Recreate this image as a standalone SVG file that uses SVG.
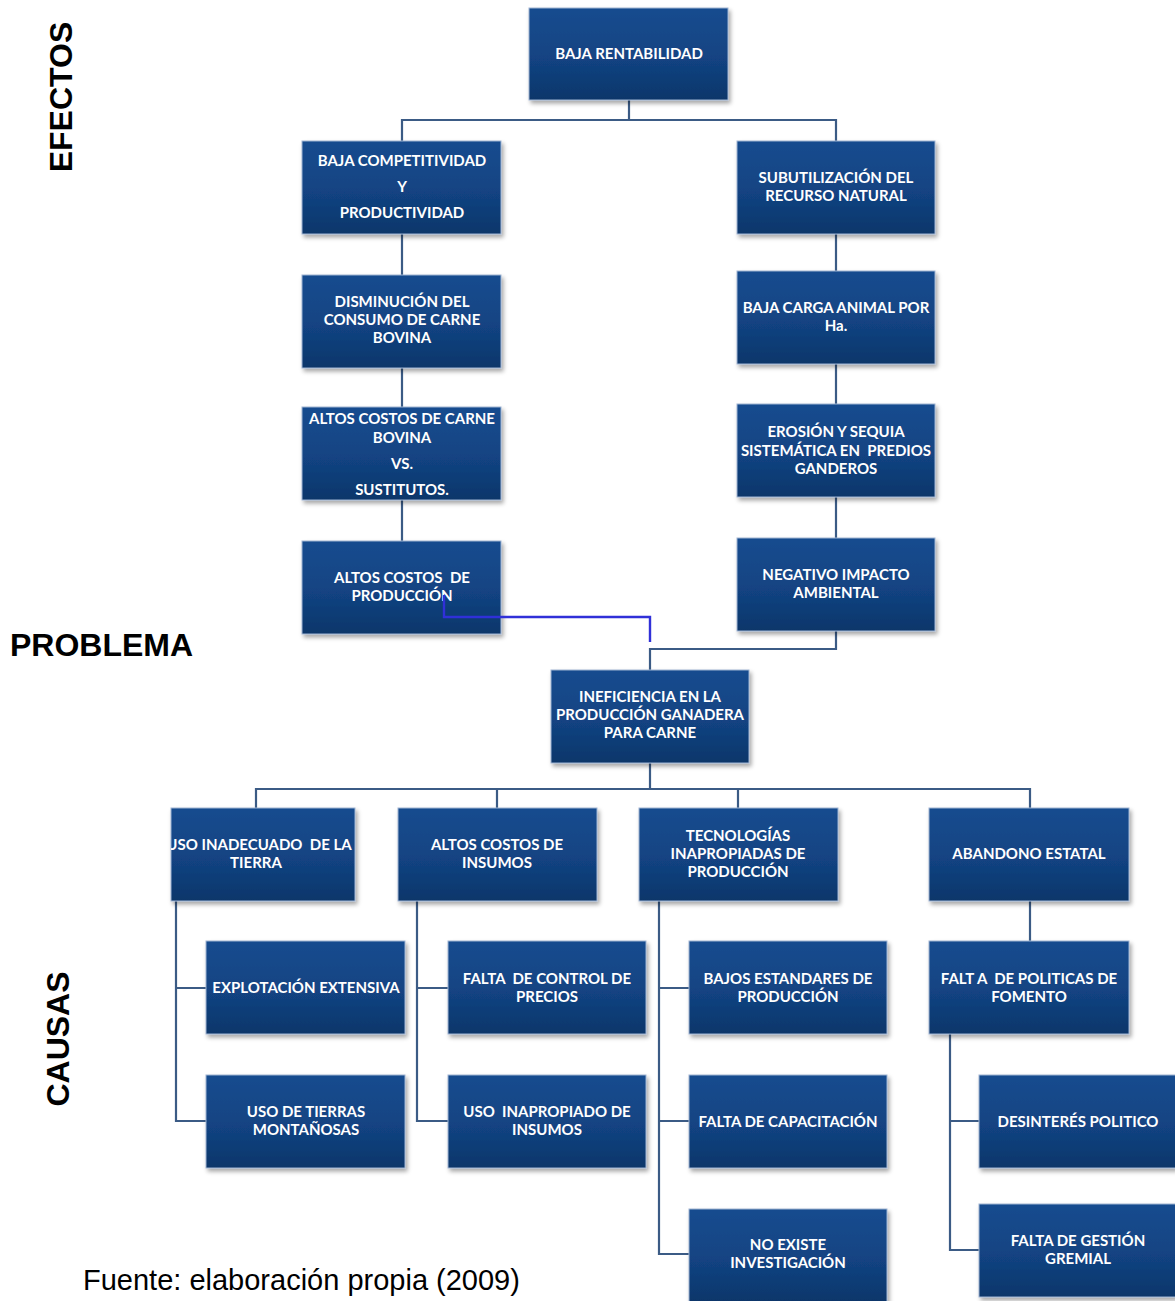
<svg xmlns="http://www.w3.org/2000/svg" width="1175" height="1301" viewBox="0 0 1175 1301">
  <defs>
    <linearGradient id="boxFill" x1="0" y1="0" x2="0" y2="1">
      <stop offset="0" stop-color="#154c8f"/>
      <stop offset="0.55" stop-color="#124382"/>
      <stop offset="1" stop-color="#0d366a"/>
    </linearGradient>
    <filter id="shadow" x="-10%" y="-10%" width="125%" height="130%">
      <feDropShadow dx="2" dy="3" stdDeviation="2" flood-color="#000" flood-opacity="0.35"/>
    </filter>
    <clipPath id="clipUso">
      <rect x="171" y="808" width="184" height="93"/>
    </clipPath>
  </defs>
  <style>
    .box { fill: url(#boxFill); stroke: #9fb4d2; stroke-width: 1; filter: url(#shadow); }
    .t { font-family: "Lato", "Liberation Sans", sans-serif; font-weight: bold; font-size: 15px; fill: #ffffff; text-anchor: middle; white-space: pre; }
    .wire { fill: none; stroke: #3b5b85; stroke-width: 2.2; }
    .hl { fill: none; stroke: #3030d8; stroke-width: 2.4; }
    .lbl { font-family: "Liberation Sans", Arial, sans-serif; font-weight: bold; font-size: 32px; fill: #000; }
  </style>

  <rect width="1175" height="1301" fill="#ffffff"/>

  <!-- side labels -->
  <text class="lbl" transform="translate(72,97) rotate(-90)" text-anchor="middle">EFECTOS</text>
  <text class="lbl" x="10" y="656">PROBLEMA</text>
  <text class="lbl" transform="translate(69,1039) rotate(-90)" text-anchor="middle" font-size="29">CAUSAS</text>
  <text x="83" y="1290" font-family="Liberation Sans, Arial, sans-serif" font-size="29" fill="#000">Fuente: elaboración propia (2009)</text>

  <!-- connectors -->
  <g id="connectors">
    <!-- effects tree -->
    <path class="wire" d="M629,100 V120 M402,141 V120 H836 V141"/>
    <path class="wire" d="M402,234 V275 M402,368 V407 M402,500 V541"/>
    <path class="wire" d="M836,234 V271 M836,364 V404 M836,497 V538"/>
    <path class="wire" d="M836,631 V649 H650 V670"/>
    <!-- causes tree -->
    <path class="wire" d="M650,763 V789 M256,808 V789 H1030 V808 M497,789 V808 M738,789 V808"/>
    <path class="wire" d="M176,901 V1121 H206 M176,988 H206"/>
    <path class="wire" d="M417,901 V1121 H448 M417,988 H448"/>
    <path class="wire" d="M659,901 V1254 H689 M659,988 H689 M659,1121 H689"/>
    <path class="wire" d="M1030,901 V941"/>
    <path class="wire" d="M950,1034 V1250 H979 M950,1121 H979"/>
  </g>

  <!-- effects -->
  <g id="n-baja-rentabilidad">
    <rect class="box" x="529" y="8" width="199" height="92"/>
    <text class="t" x="629" y="59">BAJA RENTABILIDAD</text>
  </g>
  <g id="n-baja-competitividad">
    <rect class="box" x="302" y="141" width="199" height="93"/>
    <text class="t" x="402" y="166">BAJA COMPETITIVIDAD</text>
    <text class="t" x="402" y="192">Y</text>
    <text class="t" x="402" y="218">PRODUCTIVIDAD</text>
  </g>
  <g id="n-subutilizacion">
    <rect class="box" x="737" y="141" width="198" height="93"/>
    <text class="t" x="836" y="183">SUBUTILIZACIÓN DEL</text>
    <text class="t" x="836" y="201">RECURSO NATURAL</text>
  </g>
  <g id="n-disminucion">
    <rect class="box" x="302" y="275" width="199" height="93"/>
    <text class="t" x="402" y="307">DISMINUCIÓN DEL</text>
    <text class="t" x="402" y="325">CONSUMO DE CARNE</text>
    <text class="t" x="402" y="343">BOVINA</text>
  </g>
  <g id="n-baja-carga">
    <rect class="box" x="737" y="271" width="198" height="93"/>
    <text class="t" x="836" y="313">BAJA CARGA ANIMAL POR</text>
    <text class="t" x="836" y="331">Ha.</text>
  </g>
  <g id="n-altos-costos-carne">
    <rect class="box" x="302" y="407" width="199" height="93"/>
    <text class="t" x="402" y="424">ALTOS COSTOS DE CARNE</text>
    <text class="t" x="402" y="443">BOVINA</text>
    <text class="t" x="402" y="469">VS.</text>
    <text class="t" x="402" y="495">SUSTITUTOS.</text>
  </g>
  <g id="n-erosion">
    <rect class="box" x="737" y="404" width="198" height="93"/>
    <text class="t" x="836" y="437">EROSIÓN Y SEQUIA</text>
    <text class="t" x="836" y="456">SISTEMÁTICA EN  PREDIOS</text>
    <text class="t" x="836" y="474">GANDEROS</text>
  </g>
  <g id="n-altos-costos-produccion">
    <rect class="box" x="302" y="541" width="199" height="93"/>
    <text class="t" x="402" y="583">ALTOS COSTOS  DE</text>
    <text class="t" x="402" y="601">PRODUCCIÓN</text>
  </g>
  <g id="n-negativo-impacto">
    <rect class="box" x="737" y="538" width="198" height="93"/>
    <text class="t" x="836" y="580">NEGATIVO IMPACTO</text>
    <text class="t" x="836" y="598">AMBIENTAL</text>
  </g>

  <!-- problem -->
  <g id="n-ineficiencia">
    <rect class="box" x="551" y="670" width="198" height="93"/>
    <text class="t" x="650" y="702">INEFICIENCIA EN LA</text>
    <text class="t" x="650" y="720">PRODUCCIÓN GANADERA</text>
    <text class="t" x="650" y="738">PARA CARNE</text>
  </g>

  <!-- causes -->
  <g id="n-uso-inadecuado">
    <rect class="box" x="171" y="808" width="184" height="93"/>
    <g clip-path="url(#clipUso)">
      <text class="t" x="259" y="850">USO INADECUADO  DE LA</text>
      <text class="t" x="256" y="868">TIERRA</text>
    </g>
  </g>
  <g id="n-altos-costos-insumos">
    <rect class="box" x="398" y="808" width="199" height="93"/>
    <text class="t" x="497" y="850">ALTOS COSTOS DE</text>
    <text class="t" x="497" y="868">INSUMOS</text>
  </g>
  <g id="n-tecnologias">
    <rect class="box" x="639" y="808" width="199" height="93"/>
    <text class="t" x="738" y="841">TECNOLOGÍAS</text>
    <text class="t" x="738" y="859">INAPROPIADAS DE</text>
    <text class="t" x="738" y="877">PRODUCCIÓN</text>
  </g>
  <g id="n-abandono-estatal">
    <rect class="box" x="929" y="808" width="200" height="93"/>
    <text class="t" x="1029" y="859">ABANDONO ESTATAL</text>
  </g>

  <g id="n-explotacion">
    <rect class="box" x="206" y="941" width="199" height="93"/>
    <text class="t" x="306" y="993">EXPLOTACIÓN EXTENSIVA</text>
  </g>
  <g id="n-tierras-montanosas">
    <rect class="box" x="206" y="1075" width="199" height="93"/>
    <text class="t" x="306" y="1117">USO DE TIERRAS</text>
    <text class="t" x="306" y="1135">MONTAÑOSAS</text>
  </g>
  <g id="n-control-precios">
    <rect class="box" x="448" y="941" width="198" height="93"/>
    <text class="t" x="547" y="984">FALTA  DE CONTROL DE</text>
    <text class="t" x="547" y="1002">PRECIOS</text>
  </g>
  <g id="n-uso-inapropiado">
    <rect class="box" x="448" y="1075" width="198" height="93"/>
    <text class="t" x="547" y="1117">USO  INAPROPIADO DE</text>
    <text class="t" x="547" y="1135">INSUMOS</text>
  </g>
  <g id="n-bajos-estandares">
    <rect class="box" x="689" y="941" width="198" height="93"/>
    <text class="t" x="788" y="984">BAJOS ESTANDARES DE</text>
    <text class="t" x="788" y="1002">PRODUCCIÓN</text>
  </g>
  <g id="n-capacitacion">
    <rect class="box" x="689" y="1075" width="198" height="93"/>
    <text class="t" x="788" y="1127">FALTA DE CAPACITACIÓN</text>
  </g>
  <g id="n-investigacion">
    <rect class="box" x="689" y="1209" width="198" height="93"/>
    <text class="t" x="788" y="1250">NO EXISTE</text>
    <text class="t" x="788" y="1268">INVESTIGACIÓN</text>
  </g>
  <g id="n-politicas-fomento">
    <rect class="box" x="929" y="941" width="200" height="93"/>
    <text class="t" x="1029" y="984">FALT A  DE POLITICAS DE</text>
    <text class="t" x="1029" y="1002">FOMENTO</text>
  </g>
  <g id="n-desinteres">
    <rect class="box" x="979" y="1075" width="198" height="93"/>
    <text class="t" x="1078" y="1127">DESINTERÉS POLITICO</text>
  </g>
  <g id="n-gestion-gremial">
    <rect class="box" x="979" y="1204" width="198" height="93"/>
    <text class="t" x="1078" y="1246">FALTA DE GESTIÓN</text>
    <text class="t" x="1078" y="1264">GREMIAL</text>
  </g>

  <!-- highlighted link drawn on top of the boxes -->
  <g id="highlight-link">
    <path class="hl" d="M444,595 V617 H650 V642"/>
  </g>
</svg>
